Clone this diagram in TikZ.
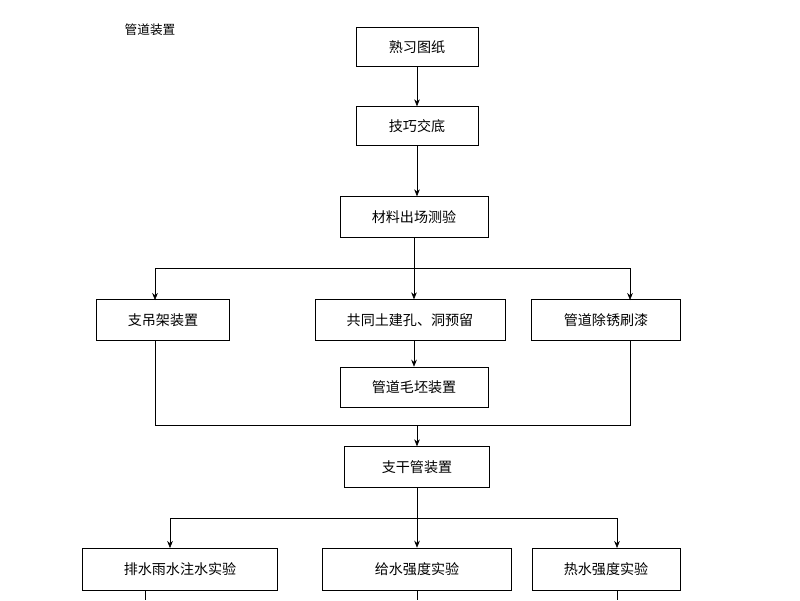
\documentclass[tikz,border=0pt]{standalone}
\usepackage{fontspec}
\setmainfont{Noto Sans CJK SC}
\usetikzlibrary{arrows.meta}
\begin{document}
\begin{tikzpicture}[x=0.025cm,y=-0.025cm,thin,
        box/.style = {draw, rectangle, inner sep=0pt, font=\fontsize{10}{12}\selectfont},
        arr/.style = {-{Stealth[length=5pt,width=4pt]}}]
    \useasboundingbox (0,0) rectangle (800,600);

    % title
    \node[font=\fontsize{9}{11}\selectfont] (title) at (150,30) {管道装置};

    % main column
    \node[box, minimum width=3.05cm, minimum height=0.97cm] (drawings) at (417,47) {熟习图纸};
    \node[box, minimum width=3.05cm, minimum height=0.97cm] (brief) at (417,126) {技巧交底};
    \node[box, minimum width=3.7cm, minimum height=1.02cm] (material) at (414,217) {材料出场测验};

    % second row
    \node[box, minimum width=3.32cm, minimum height=1.02cm] (hanger) at (163,320) {支吊架装置};
    \node[box, minimum width=4.75cm, minimum height=1.02cm] (holes) at (410,320) {共同土建孔、洞预留};
    \node[box, minimum width=3.72cm, minimum height=1.02cm] (paint) at (606,320) {管道除锈刷漆};
    \node[box, minimum width=3.7cm, minimum height=1cm] (rough) at (414,387) {管道毛坯装置};
    \node[box, minimum width=3.62cm, minimum height=1.02cm] (branch) at (417,467) {支干管装置};

    % test row
    \node[box, minimum width=4.87cm, minimum height=1.05cm] (drain) at (180,569) {排水雨水注水实验};
    \node[box, minimum width=4.72cm, minimum height=1.05cm] (supply) at (417,569) {给水强度实验};
    \node[box, minimum width=3.7cm, minimum height=1.05cm] (hot) at (606,569) {热水强度实验};

    % helper points
    \coordinate (split1) at (414,268);
    \coordinate (join) at (417,425);
    \coordinate (split2) at (417,518);
    \coordinate (d1) at (145,600);
    \coordinate (d2) at (417,600);
    \coordinate (d3) at (617,600);

    % connectors
    \draw[arr] (drawings) -- (brief);
    \draw[arr] (brief) -- (brief |- material.north);
    \draw (material) -- (split1);
    \draw[arr] (split1) -| (155,300);
    \draw[arr] (split1) -| (630,300);
    \draw[arr] (split1) -- (split1 |- holes.north);
    \draw[arr] (holes.south -| rough) -- (rough);
    \draw (hanger.south -| 155,0) |- (join);
    \draw (paint.south -| 630,0) |- (join);
    \draw[arr] (join) -- (branch);
    \draw (branch) -- (split2);
    \draw[arr] (split2) -| (170,548);
    \draw[arr] (split2) -| (617,548);
    \draw[arr] (split2) -- (supply);

    % lines leaving the page
    \draw (drain.south -| d1) -- (d1);
    \draw (supply) -- (d2);
    \draw (hot.south -| d3) -- (d3);
\end{tikzpicture}
\end{document}
